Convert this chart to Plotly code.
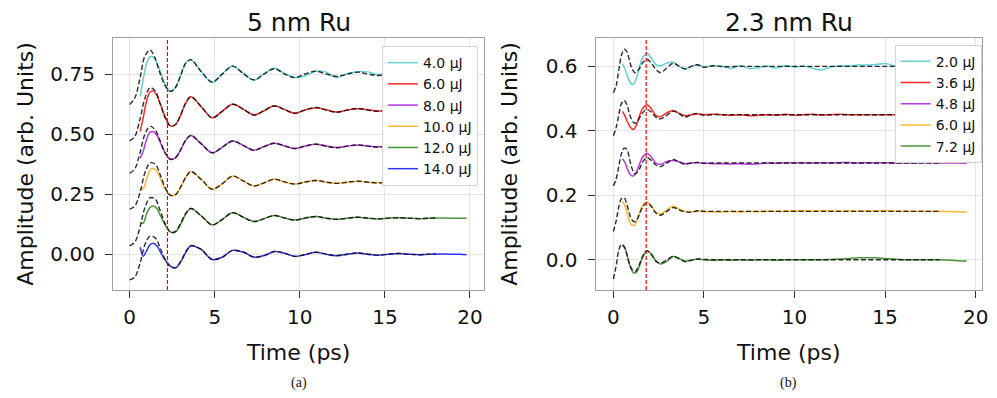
import plotly.graph_objects as go

# ---------------- Panel (a): 5 nm Ru ----------------
labels_a = ["4.0 µJ", "6.0 µJ", "8.0 µJ", "10.0 µJ", "12.0 µJ", "14.0 µJ"]
offsets_a = [0.75, 0.60, 0.45, 0.30, 0.15, 0.00]
colors_a = ["rgba(0,180,180,0.62)", "rgba(255,0,0,0.85)", "rgba(170,20,220,0.85)",
            "rgba(255,165,0,0.8)", "rgba(40,130,20,0.85)", "rgba(0,0,255,0.8)"]

t_exp_a = [0.62, 0.8, 1.0, 1.2, 1.4, 1.6, 1.8, 2.1, 2.4, 2.7, 3.0, 3.3, 3.6,
           4.2, 4.85, 5.45, 6.05, 6.7, 7.3, 7.9, 8.5, 9.1, 9.7, 10.3, 10.95, 11.55,
           12.15, 12.8, 13.4, 14.0, 14.6, 15.2, 15.8, 16.4, 17.0, 17.6, 18.2, 18.8, 19.4, 19.8]
t_fit_a = [0.0, 0.3, 0.6, 0.9, 1.2, 1.5, 1.8, 2.1, 2.4, 2.7, 3.0, 3.3, 3.6,
           4.2, 4.85, 5.45, 6.05, 6.7, 7.3, 7.9, 8.5, 9.1, 9.7, 10.3, 10.95, 11.55,
           12.15, 12.8, 13.4, 14.0, 14.6, 15.2, 15.8, 16.4, 17.0, 17.6, 18.0]

exp_a_4uJ = [-0.093, -0.02, 0.045, 0.072, 0.07, 0.045, 0.01, -0.045, -0.073, -0.055, -0.005, 0.048, 0.058,
             0.012, -0.035, 0.002, 0.032, 0.003, -0.026, 0.002, 0.024, 0.003, -0.014, -0.008, 0.012, 0.008,
             -0.014, 0.002, 0.01, 0.009, -0.003, 0.006, 0.003, -0.002, 0.004, 0.0, 0.002, -0.002, 0.001, 0.0]
exp_a_6uJ = [-0.089, -0.03, 0.04, 0.075, 0.08, 0.06, 0.025, -0.03, -0.066, -0.06, -0.02, 0.03, 0.055,
             0.015, -0.032, -0.004, 0.024, 0.003, -0.02, -0.003, 0.018, 0.002, -0.013, 0.0, 0.01, 0.001,
             -0.008, 0.0, 0.006, 0.001, -0.004, 0.0, 0.004, 0.0, -0.002, 0.0, 0.001, 0.0, 0.0, 0.0]
exp_a_8uJ = [-0.05, -0.02, 0.03, 0.058, 0.06, 0.045, 0.015, -0.03, -0.055, -0.048, -0.015, 0.025, 0.044,
             0.01, -0.028, -0.004, 0.021, 0.002, -0.017, -0.002, 0.012, 0.001, -0.01, 0.0, 0.008, 0.0,
             -0.006, 0.0, 0.005, 0.0, -0.003, 0.0, 0.003, 0.0, -0.002, 0.0, 0.001, 0.0, 0.0, 0.0]
exp_a_10uJ = [-0.029, -0.026, 0.015, 0.05, 0.058, 0.045, 0.015, -0.03, -0.055, -0.052, -0.02, 0.02, 0.044,
              0.012, -0.029, -0.006, 0.025, 0.004, -0.016, -0.003, 0.012, 0.001, -0.008, 0.0, 0.007, 0.0,
              -0.005, 0.0, 0.004, 0.0, -0.003, 0.0, 0.002, 0.0, -0.002, 0.0, 0.001, 0.0, 0.0, -0.001]
exp_a_12uJ = [-0.018, -0.02, 0.02, 0.045, 0.051, 0.04, 0.012, -0.03, -0.058, -0.057, -0.025, 0.018, 0.04,
              0.01, -0.028, -0.005, 0.023, 0.003, -0.014, -0.002, 0.011, 0.001, -0.008, 0.0, 0.007, 0.0,
              -0.005, 0.0, 0.004, 0.0, -0.003, 0.0, 0.002, 0.0, -0.002, 0.0, 0.001, 0.0, 0.0, 0.0]
exp_a_14uJ = [0.029, -0.008, 0.015, 0.04, 0.046, 0.035, 0.01, -0.025, -0.05, -0.057, -0.032, 0.008, 0.035,
              0.02, -0.022, -0.012, 0.016, 0.008, -0.012, -0.006, 0.011, 0.004, -0.009, -0.002, 0.008, 0.0,
              -0.006, 0.0, 0.005, 0.0, -0.004, 0.0, 0.003, 0.0, -0.002, 0.0, 0.001, 0.0, 0.0, -0.002]

fit_a_4uJ = [-0.127, -0.10, -0.02, 0.075, 0.10, 0.065, 0.0, -0.05, -0.072, -0.055, -0.005, 0.045, 0.06,
             0.01, -0.033, 0.0, 0.033, 0.0, -0.024, 0.0, 0.022, 0.0, -0.015, 0.0, 0.012, 0.0,
             -0.01, 0.0, 0.008, 0.0, -0.006, 0.0, 0.005, 0.0, -0.004, 0.0, 0.002]
fit_a_6uJ = [-0.128, -0.11, -0.04, 0.05, 0.093, 0.08, 0.025, -0.035, -0.066, -0.06, -0.02, 0.03, 0.055,
             0.015, -0.032, -0.005, 0.024, 0.002, -0.021, -0.002, 0.017, 0.002, -0.013, 0.0, 0.011, 0.0,
             -0.009, 0.0, 0.007, 0.0, -0.005, 0.0, 0.004, 0.0, -0.003, 0.0, 0.002]
fit_a_8uJ = [-0.1125, -0.095, -0.03, 0.05, 0.082, 0.068, 0.02, -0.03, -0.055, -0.048, -0.015, 0.025, 0.044,
             0.01, -0.028, -0.004, 0.021, 0.002, -0.017, -0.002, 0.012, 0.001, -0.01, 0.0, 0.008, 0.0,
             -0.007, 0.0, 0.005, 0.0, -0.004, 0.0, 0.003, 0.0, -0.002, 0.0, 0.001]
fit_a_10uJ = [-0.1125, -0.1, -0.045, 0.04, 0.08, 0.075, 0.03, -0.025, -0.055, -0.052, -0.02, 0.02, 0.044,
              0.012, -0.029, -0.006, 0.025, 0.004, -0.016, -0.003, 0.012, 0.001, -0.008, 0.0, 0.007, 0.0,
              -0.005, 0.0, 0.004, 0.0, -0.003, 0.0, 0.002, 0.0, -0.002, 0.0, 0.001]
fit_a_12uJ = [-0.115, -0.1, -0.04, 0.045, 0.085, 0.08, 0.03, -0.025, -0.058, -0.055, -0.02, 0.02, 0.04,
              0.01, -0.028, -0.005, 0.023, 0.003, -0.014, -0.002, 0.011, 0.001, -0.008, 0.0, 0.007, 0.0,
              -0.005, 0.0, 0.004, 0.0, -0.003, 0.0, 0.002, 0.0, -0.002, 0.0, 0.001]
fit_a_14uJ = [-0.107, -0.095, -0.04, 0.04, 0.075, 0.068, 0.025, -0.025, -0.052, -0.056, -0.03, 0.01, 0.036,
              0.02, -0.022, -0.012, 0.016, 0.008, -0.012, -0.006, 0.011, 0.004, -0.009, -0.002, 0.008, 0.0,
              -0.006, 0.0, 0.005, 0.0, -0.004, 0.0, 0.003, 0.0, -0.002, 0.0, 0.001]

exp_a = [exp_a_4uJ, exp_a_6uJ, exp_a_8uJ, exp_a_10uJ, exp_a_12uJ, exp_a_14uJ]
fit_a = [fit_a_4uJ, fit_a_6uJ, fit_a_8uJ, fit_a_10uJ, fit_a_12uJ, fit_a_14uJ]
marker_time_a = 2.22

# ---------------- Panel (b): 2.3 nm Ru ----------------
labels_b = ["2.0 µJ", "3.6 µJ", "4.8 µJ", "6.0 µJ", "7.2 µJ"]
offsets_b = [0.60, 0.45, 0.30, 0.15, 0.00]
colors_b = colors_a[:5]

t_exp_b = [0.5, 0.65, 0.8, 0.95, 1.1, 1.25, 1.4, 1.6, 1.85, 2.1, 2.35, 2.6, 2.95, 3.3, 3.6, 3.95,
           4.3, 4.65, 5.0, 5.5, 6.0, 6.5, 7.0, 7.5, 8.0, 8.5, 9.0, 9.5, 10.0, 10.5, 11.0, 11.5,
           12.0, 12.5, 13.0, 13.5, 14.0, 14.5, 15.0, 15.5, 16.0, 17.0, 18.0, 19.0, 19.5]
t_fit_b = [0.0, 0.15, 0.3, 0.45, 0.6, 0.75, 0.9, 1.05, 1.2, 1.4, 1.6, 1.85, 2.1, 2.35, 2.6, 2.95,
           3.3, 3.6, 3.95, 4.3, 4.65, 5.0, 5.5, 6.0, 7.0, 8.0, 9.0, 10.0, 11.0, 12.0, 13.0, 14.0,
           15.0, 16.0, 17.0, 18.0]

exp_b_2uJ = [0.008, -0.01, -0.035, -0.052, -0.056, -0.04, -0.01, 0.025, 0.041, 0.025,
             0.005, 0.002, 0.01, 0.013, 0.0, -0.008, 0.0, 0.004, -0.002, 0.002,
             0.0, -0.006, 0.002, -0.007, -0.004, 0.0, -0.006, 0.003, -0.002, 0.001,
             -0.006, -0.011, -0.002, 0.002, 0.001, 0.004, 0.004, 0.006, 0.009, 0.002,
             0.0, 0.0, 0.0, 0.0, 0.0]
exp_b_36uJ = [0.01, -0.005, -0.025, -0.04, -0.046, -0.035, -0.01, 0.018, 0.031, 0.018,
              -0.003, -0.006, 0.006, 0.013, 0.005, -0.003, 0.0, 0.002, 0.0, 0.001,
              0.0, -0.002, 0.0, -0.003, -0.002, 0.0, -0.002, 0.001, -0.002, 0.0,
              0.001, -0.001, 0.0, 0.001, 0.0, 0.0, 0.0, 0.0, 0.0, 0.0,
              0.0, 0.0, 0.0, 0.0, 0.0]
exp_b_48uJ = [0.013, 0.0, -0.022, -0.037, -0.04, -0.03, -0.01, 0.017, 0.03, 0.018,
              0.0, -0.004, 0.005, 0.008, 0.004, -0.002, 0.0, 0.001, 0.0, -0.002,
              -0.002, -0.003, -0.002, -0.004, -0.002, 0.0, -0.001, 0.001, 0.0, 0.001,
              0.0, 0.001, 0.0, 0.001, 0.002, 0.0, 0.001, 0.0, 0.001, 0.0,
              0.0, 0.001, 0.0, 0.0, -0.001]
exp_b_6uJ = [0.032, 0.015, -0.015, -0.038, -0.045, -0.035, -0.01, 0.017, 0.029, 0.017,
             -0.003, -0.008, 0.005, 0.017, 0.008, 0.0, -0.002, 0.0, 0.0, -0.002,
             -0.002, 0.0, -0.002, 0.0, -0.001, 0.0, 0.0, 0.001, 0.002, 0.002,
             0.001, 0.002, 0.002, 0.001, 0.002, 0.001, 0.001, 0.002, 0.002, 0.001,
             0.001, 0.0, 0.0, -0.001, -0.002]
exp_b_72uJ = [0.046, 0.035, 0.005, -0.025, -0.04, -0.04, -0.025, 0.005, 0.027, 0.018,
              -0.003, -0.013, -0.005, 0.01, 0.005, -0.004, -0.001, 0.002, 0.0, -0.002,
              0.0, -0.002, 0.0, -0.002, 0.0, 0.0, -0.002, 0.0, 0.0, 0.0,
              0.0, 0.0, 0.001, 0.002, 0.004, 0.006, 0.006, 0.006, 0.004, 0.002,
              0.0, 0.0, 0.0, -0.003, -0.004]

fit_b_2uJ = [-0.082, -0.06, -0.01, 0.035, 0.053, 0.045, 0.015, -0.01, -0.02, -0.01,
             0.01, 0.022, 0.01, -0.01, -0.019, -0.005, 0.01, 0.002, -0.008, 0.0,
             0.005, -0.003, 0.002, -0.001, 0.0, 0.0, 0.0, 0.0, 0.0, 0.0,
             0.0, 0.0, 0.0, 0.0, 0.0, 0.0]
fit_b_36uJ = [-0.065, -0.04, 0.0, 0.035, 0.044, 0.03, 0.0, -0.02, -0.027, -0.015,
              0.005, 0.016, 0.008, -0.008, -0.013, -0.002, 0.011, 0.004, -0.007, 0.0,
              0.004, -0.002, 0.001, 0.0, 0.0, 0.0, 0.0, 0.0, 0.0, 0.0,
              0.0, 0.0, 0.0, 0.0, 0.0, 0.0]
fit_b_48uJ = [-0.071, -0.05, -0.01, 0.03, 0.046, 0.042, 0.01, -0.02, -0.034, -0.022,
              0.002, 0.0165, 0.008, -0.006, -0.011, 0.0, 0.011, 0.004, -0.004, 0.0,
              0.002, -0.001, 0.0, 0.0, 0.0, 0.0, 0.0, 0.0, 0.0, 0.0,
              0.0, 0.0, 0.0, 0.0, 0.0, 0.0]
fit_b_6uJ = [-0.063, -0.03, 0.015, 0.04, 0.042, 0.02, -0.01, -0.028, -0.032, -0.015,
             0.012, 0.027, 0.015, -0.005, -0.012, 0.0, 0.012, 0.005, -0.001, -0.002,
             0.002, 0.0, 0.0, 0.0, 0.0, 0.0, 0.0, 0.0, 0.0, 0.0,
             0.0, 0.0, 0.0, 0.0, 0.0, 0.0]
fit_b_72uJ = [-0.06, -0.02, 0.03, 0.048, 0.04, 0.015, -0.015, -0.032, -0.037, -0.02,
              0.01, 0.028, 0.015, -0.005, -0.010, -0.001, 0.0105, 0.004, -0.006, -0.002,
              0.002, 0.001, 0.0, 0.0, 0.0, 0.0, 0.0, 0.0, 0.0, 0.0,
              0.0, 0.0, 0.0, 0.0, 0.0, 0.0]

exp_b = [exp_b_2uJ, exp_b_36uJ, exp_b_48uJ, exp_b_6uJ, exp_b_72uJ]
fit_b = [fit_b_2uJ, fit_b_36uJ, fit_b_48uJ, fit_b_6uJ, fit_b_72uJ]
marker_time_b = 1.81

x_ticks = [0, 5, 10, 15, 20]
y_ticks_a = [0.0, 0.25, 0.50, 0.75]
y_ticks_b = [0.0, 0.2, 0.4, 0.6]

FONT = "DejaVu Sans"
FIT_COLOR = "rgba(20,20,20,0.9)"

fig = go.Figure()


def add_panel(times_e, times_f, exps, fits, offs, labels, colors, xa, ya, leg):
    for vals, off, lab, col in zip(exps, offs, labels, colors):
        fig.add_trace(go.Scatter(
            x=times_e, y=[v + off for v in vals], mode="lines", name=lab,
            line=dict(color=col, width=1.5, shape="spline", smoothing=1.0),
            xaxis=xa, yaxis=ya, legend=leg, showlegend=True))
    for vals, off in zip(fits, offs):
        fig.add_trace(go.Scatter(
            x=times_f, y=[v + off for v in vals], mode="lines",
            line=dict(color=FIT_COLOR, width=1.4, dash="5px,2.5px", shape="spline", smoothing=1.0),
            xaxis=xa, yaxis=ya, showlegend=False, hoverinfo="skip"))


add_panel(t_exp_a, t_fit_a, exp_a, fit_a, offsets_a, labels_a, colors_a, "x", "y", "legend")
add_panel(t_exp_b, t_fit_b, exp_b, fit_b, offsets_b, labels_b, colors_b, "x2", "y2", "legend2")

for xa, ya, xv in [("x", "y", marker_time_a), ("x2", "y2", marker_time_b)]:
    fig.add_shape(type="line", xref=xa, yref=ya + " domain", x0=xv, x1=xv, y0=0, y1=1,
                  line=dict(color="red", width=1.2, dash="4px,2px"), layer="above")

axis_common = dict(showline=True, mirror=True, linecolor="#a0a0a0", linewidth=1.2,
                   ticks="outside", ticklen=7, tickwidth=1.2, tickcolor="#333333",
                   showgrid=True, gridcolor="#e4e4e4", gridwidth=1, zeroline=False,
                   tickfont=dict(family=FONT, size=20, color="#111111"))

fig.update_layout(
    width=997, height=398,
    margin=dict(l=113, r=9, t=38, b=108),
    paper_bgcolor="white", plot_bgcolor="white",
    font=dict(family=FONT, color="#111111"),
    xaxis=dict(domain=[0.0, 0.4274], range=[-0.98, 20.85], tickvals=x_ticks,
               title=dict(text="Time (ps)", font=dict(size=22), standoff=16),
               ticklabelstandoff=2, **axis_common),
    yaxis=dict(domain=[0.0, 1.0], range=[-0.149, 0.90], tickvals=y_ticks_a, tickformat=".2f",
               title=dict(text="Amplitude (arb. Units)", font=dict(size=22), standoff=10),
               ticklabelstandoff=6, **axis_common),
    xaxis2=dict(domain=[0.5554, 1.0], range=[-0.98, 20.35], tickvals=x_ticks, anchor="y2",
                title=dict(text="Time (ps)", font=dict(size=22), standoff=16),
                ticklabelstandoff=2, **axis_common),
    yaxis2=dict(domain=[0.0, 1.0], range=[-0.094, 0.688], tickvals=y_ticks_b, tickformat=".1f",
                anchor="x2",
                title=dict(text="Amplitude (arb. Units)", font=dict(size=22), standoff=22),
                ticklabelstandoff=6, **axis_common),
    legend=dict(x=0.3095, y=0.968, xanchor="left", yanchor="top", bgcolor="white",
                bordercolor="#d4d4d4", borderwidth=1, font=dict(family=FONT, size=14),
                itemwidth=30),
    legend2=dict(x=0.8995, y=0.9734, xanchor="left", yanchor="top", bgcolor="white",
                 bordercolor="#d4d4d4", borderwidth=1, font=dict(family=FONT, size=14),
                 itemwidth=30),
    annotations=[
        dict(text="5 nm Ru", x=0.2137, y=1.0, xref="paper", yref="paper", xanchor="center",
             yanchor="bottom", yshift=-1, showarrow=False,
             font=dict(family=FONT, size=25, color="#111")),
        dict(text="2.3 nm Ru", x=0.7777, y=1.0, xref="paper", yref="paper", xanchor="center",
             yanchor="bottom", yshift=-1, showarrow=False,
             font=dict(family=FONT, size=25, color="#111")),
        dict(text="(a)", x=0.2137, y=-0.369, xref="paper", yref="paper", xanchor="center",
             yanchor="middle", showarrow=False,
             font=dict(family="Liberation Serif", size=14, color="#111")),
        dict(text="(b)", x=0.7777, y=-0.369, xref="paper", yref="paper", xanchor="center",
             yanchor="middle", showarrow=False,
             font=dict(family="Liberation Serif", size=14, color="#111")),
    ],
)

fig.write_html("out.html", config={"displayModeBar": False},
               post_script="document.body.style.margin='0px';document.body.style.overflow='hidden';")
